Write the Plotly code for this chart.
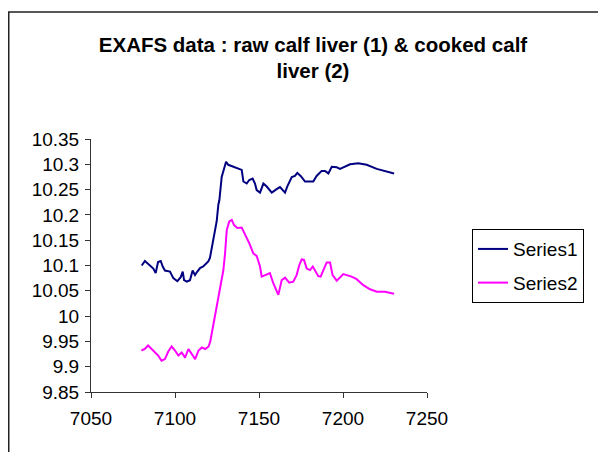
import plotly.graph_objects as go

# Series 1 (raw calf liver)
s1_x = [7080.2, 7082.1, 7087.1, 7088.5, 7089.9, 7091.5, 7092.7, 7094.0, 7097.0, 7099.0,
        7101.4, 7103.4, 7104.6, 7105.4, 7107.0, 7108.9, 7110.5, 7111.9, 7113.3, 7114.9,
        7116.8, 7118.5, 7119.8, 7120.8, 7121.8, 7122.8, 7124.8, 7125.8, 7126.4, 7127.8,
        7128.8, 7129.8, 7130.4, 7131.7, 7135.7, 7139.7, 7140.7, 7142.7, 7144.2, 7146.2,
        7147.6, 7148.6, 7150.6, 7152.6, 7154.6, 7157.6, 7160.5, 7162.5, 7165.5, 7166.8,
        7169.5, 7171.4, 7172.8, 7174.8, 7177.4, 7182.3, 7184.3, 7187.3, 7189.3, 7191.3,
        7193.3, 7196.3, 7198.2, 7200.2, 7204.2, 7209.1, 7214.1, 7220.1, 7226.0, 7230.4]
s1_y = [10.100, 10.109, 10.094, 10.085, 10.107, 10.109, 10.098, 10.090, 10.088, 10.075,
        10.069, 10.077, 10.088, 10.071, 10.068, 10.071, 10.090, 10.081, 10.088, 10.095,
        10.098, 10.104, 10.108, 10.115, 10.134, 10.157, 10.187, 10.220, 10.229, 10.275,
        10.289, 10.302, 10.305, 10.299, 10.294, 10.289, 10.266, 10.262, 10.269, 10.272,
        10.262, 10.249, 10.244, 10.262, 10.256, 10.244, 10.251, 10.255, 10.244, 10.256,
        10.275, 10.277, 10.283, 10.277, 10.266, 10.266, 10.277, 10.287, 10.287, 10.282,
        10.295, 10.294, 10.291, 10.294, 10.300, 10.302, 10.299, 10.291, 10.285, 10.282]

# Series 2 (cooked calf liver)
s2_x = [7080.0, 7082.0, 7084.0, 7086.0, 7088.0, 7090.0, 7092.0, 7094.0, 7096.0, 7098.0,
        7100.0, 7102.0, 7104.0, 7106.0, 7108.0, 7110.0, 7112.0, 7114.0, 7116.0, 7118.0,
        7120.0, 7121.0, 7125.8, 7128.8, 7129.8, 7130.8, 7132.3, 7133.8, 7135.1, 7137.1,
        7139.7, 7140.7, 7142.3, 7144.2, 7146.6, 7148.6, 7150.6, 7151.6, 7153.6, 7156.5,
        7158.5, 7161.5, 7163.5, 7165.5, 7168.0, 7170.4, 7172.4, 7174.0, 7175.4, 7176.8,
        7178.4, 7180.4, 7182.0, 7183.3, 7185.3, 7186.7, 7188.7, 7190.3, 7192.3, 7193.8,
        7196.3, 7198.2, 7200.2, 7202.2, 7205.1, 7208.1, 7212.1, 7216.1, 7220.1, 7225.0,
        7230.4]
s2_y = [9.932, 9.935, 9.942, 9.935, 9.930, 9.922, 9.912, 9.915, 9.930, 9.940,
        9.932, 9.922, 9.928, 9.918, 9.935, 9.925, 9.915, 9.932, 9.938, 9.935,
        9.940, 9.950, 10.033, 10.091, 10.124, 10.170, 10.187, 10.190, 10.180, 10.174,
        10.175, 10.167, 10.157, 10.144, 10.124, 10.119, 10.098, 10.078, 10.081, 10.085,
        10.065, 10.042, 10.071, 10.076, 10.066, 10.068, 10.081, 10.101, 10.112, 10.111,
        10.094, 10.091, 10.098, 10.091, 10.079, 10.078, 10.094, 10.106, 10.106, 10.081,
        10.070, 10.077, 10.083, 10.081, 10.078, 10.073, 10.061, 10.053, 10.048, 10.048,
        10.044]

x_ticks = [7050, 7100, 7150, 7200, 7250]
y_ticks = [9.85, 9.9, 9.95, 10.0, 10.05, 10.1, 10.15, 10.2, 10.25, 10.3, 10.35]
y_tick_text = ["9.85", "9.9", "9.95", "10", "10.05", "10.1", "10.15", "10.2", "10.25", "10.3", "10.35"]

FONT = "Liberation Sans, Arial, sans-serif"

# the page body adds an 8px margin, so the figure is 8px smaller and everything is shifted by -8
W, H = 598, 444
L, T, PW, PH = 83, 131, 336, 253

fig = go.Figure()
fig.add_trace(go.Scatter(x=s1_x, y=s1_y, mode="lines", name="Series1",
                         line=dict(color="#000080", width=2), legendgroup="a"))
fig.add_trace(go.Scatter(x=s2_x, y=s2_y, mode="lines", name="Series2",
                         line=dict(color="#FF00FF", width=2), legendgroup="b"))

fig.update_layout(
    width=W, height=H,
    margin=dict(l=L, r=W - L - PW, t=T, b=H - T - PH, autoexpand=False),
    paper_bgcolor="white", plot_bgcolor="white",
    font=dict(family=FONT, color="black", size=19),
    title=dict(text="<b>EXAFS data : raw calf liver (1) & cooked calf<br>liver (2)</b>",
               x=0.510, xanchor="center", y=0.902, yanchor="top",
               font=dict(family=FONT, size=20.5, color="black")),
    showlegend=True,
    legend=dict(x=1.134, y=0.644, xanchor="left", yanchor="top",
                bordercolor="black", borderwidth=1, bgcolor="white",
                font=dict(family=FONT, size=19, color="black"),
                tracegroupgap=6),
    xaxis=dict(range=[7050, 7250], tickvals=x_ticks, showgrid=False, zeroline=False,
               showline=True, linecolor="#333333", linewidth=1,
               ticks="outside", ticklen=5, tickcolor="#333333",
               ticklabelstandoff=4, tickfont=dict(size=19)),
    yaxis=dict(range=[9.85, 10.35], tickvals=y_ticks, ticktext=y_tick_text,
               showgrid=False, zeroline=False,
               showline=True, linecolor="#333333", linewidth=1,
               ticks="outside", ticklen=5, tickcolor="#333333",
               ticklabelstandoff=2, tickfont=dict(size=19)),
)

# outer chart border (extends past the right and bottom of the picture)
fig.add_shape(type="rect", xref="paper", yref="paper",
              x0=(0.75 - L) / PW, x1=(W + 10 - L) / PW,
              y0=(T + PH - (H + 10)) / PH, y1=(T + PH - 4) / PH,
              line=dict(color="#222222", width=1.5), fillcolor="rgba(0,0,0,0)",
              layer="below")

fig.write_html("out.html")
